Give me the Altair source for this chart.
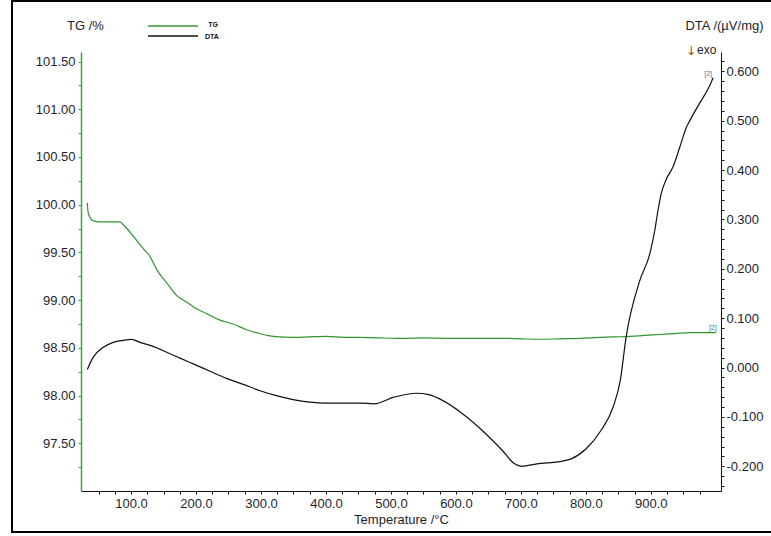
import altair as alt
import pandas as pd

# --- TG curve: temperature (°C) and mass (%) ---
tg_temp = [32.7, 34.2, 41.9, 52, 67.6, 83, 88, 95, 103.5, 118.8, 129, 139.5, 155, 170,
           185.6, 201, 216, 237, 257, 278, 298, 319, 349.6, 375, 401, 428, 452, 480,
           514, 550, 591, 630, 668, 700, 729, 760, 791, 821.5, 845, 868, 890, 914,
           937, 960, 980, 1000]
tg_mass = [100.02, 99.91, 99.83, 99.82, 99.82, 99.82, 99.79, 99.74, 99.67, 99.54, 99.46,
           99.32, 99.18, 99.05, 98.98, 98.91, 98.86, 98.79, 98.75, 98.69, 98.65, 98.62,
           98.61, 98.615, 98.62, 98.61, 98.61, 98.605, 98.60, 98.605, 98.60, 98.60,
           98.60, 98.595, 98.59, 98.595, 98.60, 98.61, 98.615, 98.62, 98.63, 98.64,
           98.65, 98.66, 98.66, 98.66]

# --- DTA curve: temperature (°C) and signal (µV/mg) ---
dta_temp = [32.7, 41.9, 57.3, 72.7, 88, 101, 113.8, 134, 155, 175.3, 195.8, 221.5, 247,
            272.7, 298.4, 324, 349.6, 375, 401, 452, 474, 504.5, 539, 558, 580, 610.7,
            641, 671.5, 690.4, 701.5, 724.5, 762, 777.5, 800, 823, 842, 853, 862,
            883, 898.4, 906, 911, 916, 924, 934, 944.5, 955, 960, 975, 990.7, 995.8]
dta_signal = [-0.004, 0.021, 0.041, 0.051, 0.055, 0.057, 0.051, 0.043, 0.031, 0.019,
              0.0075, -0.0075, -0.022, -0.034, -0.047, -0.057, -0.065, -0.070, -0.072,
              -0.072, -0.0735, -0.060, -0.052, -0.055, -0.067, -0.094, -0.128, -0.168,
              -0.195, -0.200, -0.195, -0.190, -0.185, -0.165, -0.128, -0.080, -0.026,
              0.062, 0.176, 0.230, 0.277, 0.318, 0.352, 0.382, 0.406, 0.446, 0.487,
              0.500, 0.535, 0.571, 0.587]

# --- axis ticks (major and minor) ---
x_ticks = list(range(50, 1000, 25))
tg_ticks = [round(97.25 + 0.25 * i, 2) for i in range(18)]
dta_ticks = [round(-0.24 + 0.02 * i, 2) for i in range(44)]

series_names = ["TG", "DTA"]
series_colors = ["#2f962f", "#111111"]

GREEN_AXIS = "#3aa63a"
LABEL = "#1e1e30"
FONT = "Liberation Sans"
W, H = 640, 439

tg_df = pd.DataFrame({"T": tg_temp, "v": tg_mass})
dta_df = pd.DataFrame({"T": dta_temp, "v": dta_signal})
tg_end = tg_df.tail(1)
dta_end = dta_df.tail(1)

x_enc = alt.X(
    "T:Q",
    scale=alt.Scale(domain=[23, 1008], nice=False, zero=False),
    axis=alt.Axis(
        values=x_ticks, tickCount=200,
        labelExpr="datum.value % 100 == 0 ? format(datum.value, '.1f') : ''",
        labelOverlap=False,
        tickSize=3, tickColor="#111", domainColor="#111",
        labelFontSize=13, labelColor=LABEL, labelFont=FONT, labelPadding=3,
        title="Temperature /°C", titleFont=FONT, titleFontSize=13,
        titleFontWeight="normal", titleColor=LABEL, titlePadding=3,
        grid=False,
    ),
)

tg_y = alt.Y(
    "v:Q",
    scale=alt.Scale(domain=[97.0, 101.6], nice=False, zero=False),
    axis=alt.Axis(
        orient="left", values=tg_ticks, tickCount=200,
        labelExpr="round(datum.value*100) % 50 == 0 ? format(datum.value, '.2f') : ''",
        labelOverlap=False,
        tickSize=3, tickColor=GREEN_AXIS, domainColor=GREEN_AXIS, domainWidth=1.5,
        labelFontSize=13, labelColor=LABEL, labelFont=FONT, labelPadding=3,
        title="TG /%", titleFont=FONT, titleFontSize=13, titleFontWeight="normal",
        titleColor=LABEL, titleAngle=0, titleAlign="center", titleBaseline="middle",
        titleX=4, titleY=-27, grid=False,
    ),
)

dta_y = alt.Y(
    "v:Q",
    scale=alt.Scale(domain=[-0.25, 0.639], nice=False, zero=False),
    axis=alt.Axis(
        orient="right", values=dta_ticks, tickCount=200,
        labelExpr="round(datum.value*1000) % 100 == 0 ? replace(format(datum.value, '.3f'), '\u2212', '-') : ''",
        labelOverlap=False,
        tickSize=3, tickColor="#111", domainColor="#111",
        labelFontSize=13, labelColor=LABEL, labelFont=FONT, labelPadding=2,
        title="DTA /(µV/mg)", titleFont=FONT, titleFontSize=13, titleFontWeight="normal",
        titleColor=LABEL, titleAngle=0, titleAlign="center", titleBaseline="middle",
        titleX=3, titleY=-27, grid=False,
    ),
)

tg_line = alt.Chart(tg_df).mark_line(
    color=series_colors[0], strokeWidth=1.2, interpolate="monotone"
).encode(x=x_enc, y=tg_y)
tg_tag = alt.Chart(tg_end).mark_text(
    text="[2]", fontSize=7, color="#4a76a0", dx=-3, dy=-5, font=FONT
).encode(x="T:Q", y="v:Q")

dta_line = alt.Chart(dta_df).mark_line(
    color=series_colors[1], strokeWidth=1.2, interpolate="monotone"
).encode(x=x_enc, y=dta_y)
dta_tag = alt.Chart(dta_end).mark_text(
    text="[2]", fontSize=7, color="#4a76a0", dx=-5, dy=-4, font=FONT
).encode(x="T:Q", y="v:Q")

tg_layer = alt.layer(tg_line, tg_tag)
dta_layer = alt.layer(dta_line, dta_tag)

# legend drawn as two short line samples with labels above the plot
legend_df = pd.DataFrame({"name": series_names, "color": series_colors, "row": [0, 1]})
legend_lines = alt.Chart(legend_df).mark_rule(strokeWidth=1.3).encode(
    x=alt.value(67), x2=alt.value(117), y=alt.value(-26),
    color=alt.Color("color:N", scale=None),
).transform_filter("datum.row == 0")
legend_lines2 = alt.Chart(legend_df).mark_rule(strokeWidth=1.3).encode(
    x=alt.value(67), x2=alt.value(117), y=alt.value(-16),
    color=alt.Color("color:N", scale=None),
).transform_filter("datum.row == 1")
legend_text1 = alt.Chart(legend_df).mark_text(
    fontSize=7, fontWeight="bold", font=FONT, align="center", baseline="middle", color="#111"
).encode(x=alt.value(132), y=alt.value(-27), text="name:N").transform_filter("datum.row == 0")
legend_text2 = alt.Chart(legend_df).mark_text(
    fontSize=7, fontWeight="bold", font=FONT, align="center", baseline="middle", color="#111"
).encode(x=alt.value(131), y=alt.value(-15.5), text="name:N").transform_filter("datum.row == 1")

# "exo" direction hint under the DTA title
exo_arrow = alt.Chart(legend_df.head(1)).mark_text(
    text="↓", fontSize=12, font="DejaVu Sans", color="#a23a2a", align="center", baseline="middle"
).encode(x=alt.value(610), y=alt.value(-1))
exo_text = alt.Chart(legend_df.head(1)).mark_text(
    text="exo", fontSize=12, font=FONT, color=LABEL, align="left", baseline="middle"
).encode(x=alt.value(616), y=alt.value(-2))

# outer frame around the figure
frame = alt.Chart(legend_df.head(1)).mark_rect(
    fillOpacity=0, stroke="#000", strokeWidth=2
).encode(x=alt.value(-69), x2=alt.value(705), y=alt.value(-51), y2=alt.value(480))

chart = alt.layer(
    tg_layer, dta_layer,
    legend_lines, legend_lines2, legend_text1, legend_text2,
    exo_arrow, exo_text, frame,
).resolve_scale(y="independent").properties(
    width=W, height=H,
    padding={"left": 81, "top": 52, "right": 50, "bottom": 45},
    autosize=alt.AutoSizeParams(type="none"),
    background="white",
).configure_view(stroke="transparent")

chart.save("out.html", embed_options={"renderer": "svg", "actions": False})
